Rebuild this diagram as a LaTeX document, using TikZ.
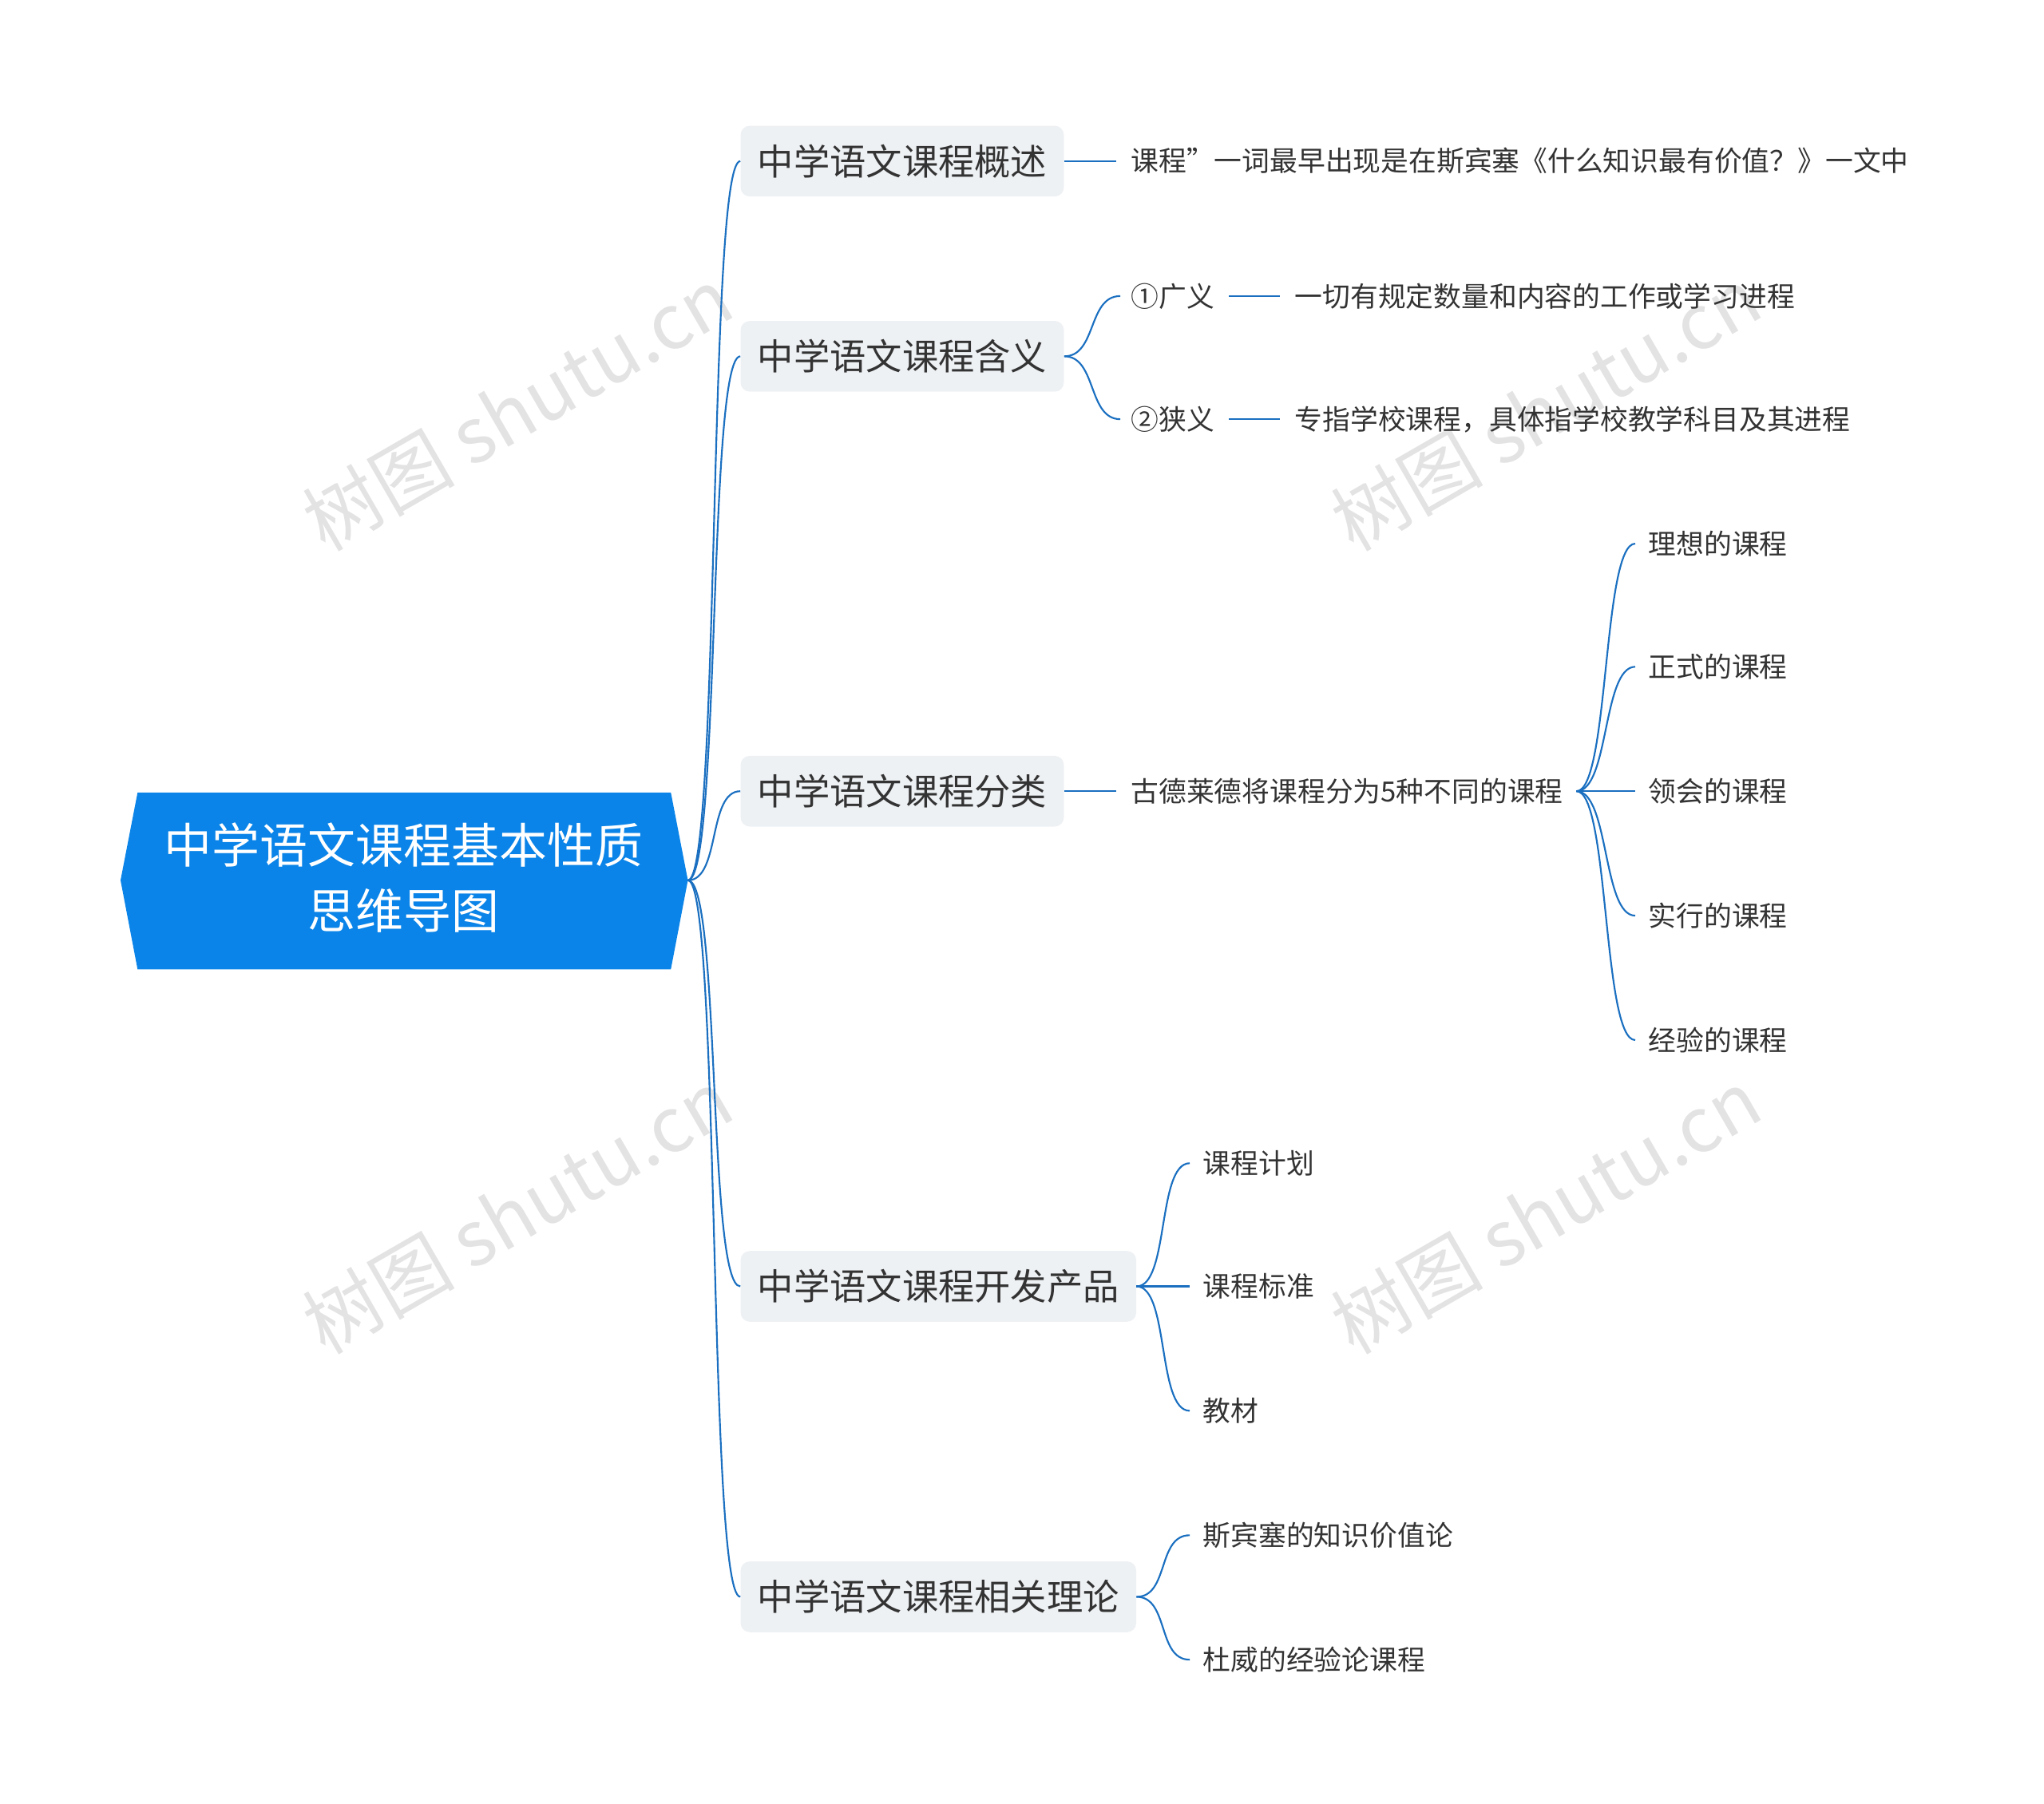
\documentclass[tikz,border=0pt]{standalone}
\usepackage{fontspec}
\setmainfont{Noto Sans CJK SC}
\usetikzlibrary{calc}
\definecolor{rootblue}{HTML}{0A84E8}
\definecolor{lineblue}{HTML}{1A6FC0}
\definecolor{branchgray}{HTML}{EEF1F4}
\definecolor{txt}{HTML}{333333}
\begin{document}
\begin{tikzpicture}[x=1pt,y=-1pt,
  branch/.style={fill=branchgray,rounded corners=7pt,anchor=west,minimum height=54pt,inner xsep=13pt,font=\fontsize{27.6}{30}\selectfont,text=txt},
  leaf/.style={anchor=west,inner sep=0pt,font=\fontsize{21.2}{24}\selectfont,text=txt},
  conn/.style={draw=lineblue,line width=1.3pt},
  wm/.style={text=gray!22,rotate=30,font=\fontsize{58}{60}\selectfont}]
\useasboundingbox (0,0) rectangle (1560,1377);
% watermarks
\foreach \x/\y in {395/312,1180/312,395/925,1180/925}
  \node[wm] at (\x,\y) {树图 shutu.cn};
% root
\fill[rootblue] (105,605) -- (512,605) -- (525,672) -- (512,740) -- (105,740) -- (92,672) -- cycle;
\coordinate (r) at (525,672);
\node[align=center,text=white,font=\fontsize{36.5}{50}\selectfont] (root) at (308,670) {中学语文课程基本性质\\思维导图};
% branches
\node[branch] (b1) at (565,123) {中学语文课程概述};
\node[branch] (b2) at (565,272) {中学语文课程含义};
\node[branch] (b3) at (565,604) {中学语文课程分类};
\node[branch] (b4) at (565,982) {中学语文课程开发产品};
\node[branch] (b5) at (565,1219) {中学语文课程相关理论};
\foreach \b in {b1,b2,b3,b4,b5}
  \draw[conn] (r) .. controls +(25,0) and +(-25,0) .. (\b.west);
% branch 1
\node[leaf] (l1) at (863,123) {课程”一词最早出现是在斯宾塞《什么知识最有价值？》一文中};
\draw[conn] (b1.east) -- ($(l1.west)+(-11,0)$);
% branch 2
\node[leaf] (g1) at (863,226) {①广义};
\node[leaf] (g2) at (863,320) {②狭义};
\draw[conn] (b2.east) .. controls +(25,0) and +(-25,0) .. ($(g1.west)+(-8,0)$);
\draw[conn] (b2.east) .. controls +(25,0) and +(-25,0) .. ($(g2.west)+(-8,0)$);
\node[leaf] (g1a) at (988,226) {一切有规定数量和内容的工作或学习进程};
\node[leaf] (g2a) at (988,320) {专指学校课程，具体指学校教学科目及其进程};
\draw[conn] ($(g1.east)+(11,0)$) -- ($(g1a.west)+(-11,0)$);
\draw[conn] ($(g2.east)+(11,0)$) -- ($(g2a.west)+(-11,0)$);
% branch 3
\node[leaf] (c) at (863,604) {古德莱德将课程分为5种不同的课程};
\draw[conn] (b3.east) -- ($(c.west)+(-11,0)$);
\foreach \n/\y/\t in {c1/415/理想的课程,c2/509/正式的课程,c3/604/领会的课程,c4/699/实行的课程,c5/794/经验的课程}{
  \node[leaf] (\n) at (1258,\y) {\t};
  \draw[conn] ($(c.east)+(10,0)$) .. controls +(25,0) and +(-25,0) .. ($(\n.west)+(-10,0)$);
}
% branch 4
\foreach \n/\y/\t in {d1/888/课程计划,d2/982/课程标准,d3/1077/教材}{
  \node[leaf] (\n) at (918,\y) {\t};
  \draw[conn] (b4.east) .. controls +(25,0) and +(-25,0) .. ($(\n.west)+(-10,0)$);
}
% branch 5
\foreach \n/\y/\t in {e1/1172/斯宾塞的知识价值论,e2/1267/杜威的经验论课程}{
  \node[leaf] (\n) at (918,\y) {\t};
  \draw[conn] (b5.east) .. controls +(25,0) and +(-25,0) .. ($(\n.west)+(-10,0)$);
}
\end{tikzpicture}
\end{document}
